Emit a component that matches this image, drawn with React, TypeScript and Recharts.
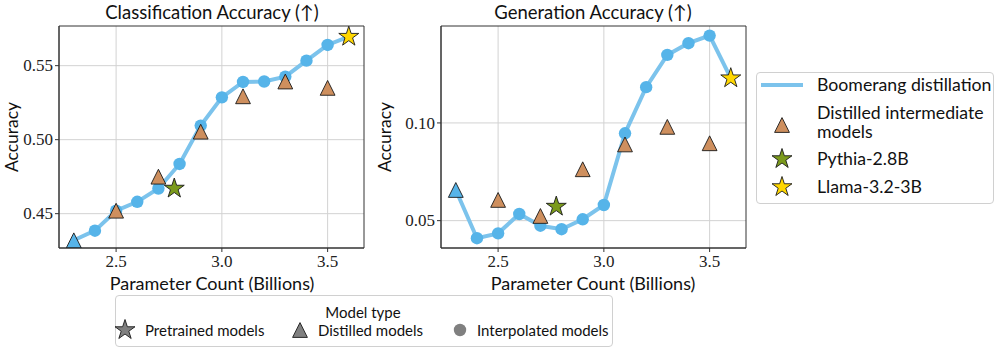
import React from 'react';
import { ComposedChart, Line, Scatter, XAxis, YAxis, CartesianGrid, ReferenceArea } from 'recharts';

// Boomerang distillation line (interpolated models), parameter count in billions
const lineParams = [2.3, 2.4, 2.5, 2.6, 2.7, 2.8, 2.9, 3.0, 3.1, 3.2, 3.3, 3.4, 3.5, 3.6];
const clsLine = [0.432, 0.4385, 0.452, 0.458, 0.467, 0.4836, 0.5095, 0.5286, 0.539, 0.5393, 0.5426, 0.5534, 0.564, 0.5696];
const genLine = [0.0657, 0.041, 0.0435, 0.0534, 0.0474, 0.0456, 0.0507, 0.058, 0.0947, 0.1183, 0.1348, 0.1408, 0.1447, 0.1229];

// Distilled intermediate models
const distilledParams = [2.5, 2.7, 2.9, 3.1, 3.3, 3.5];
const clsDistilled = [0.452, 0.475, 0.5054, 0.5293, 0.5393, 0.535];
const genDistilled = [0.0606, 0.0524, 0.0763, 0.089, 0.098, 0.0896];

// Pretrained models
const pythiaParams = [2.775];
const pythiaCls = [0.467];
const pythiaGen = [0.0572];
const llamaParams = [3.6];
const llamaCls = [0.5696];
const llamaGen = [0.1229];

const xTicks = [2.5, 3.0, 3.5];
const clsTicks = [0.45, 0.5, 0.55];
const genTicks = [0.05, 0.1];

const X_DOMAIN = [2.23, 3.672];
const CLS_DOMAIN = [0.4268, 0.5768];
const GEN_DOMAIN = [0.036, 0.1496];

const BLUE = '#56B4E9';
const LINE_BLUE = '#7CC3EC';
const BROWN = '#CE8F5E';
const OLIVE = '#7B9A1C';
const GOLD = '#FFD700';
const EDGE = '#1a1a1a';
const SANS = 'Lato, "Noto Sans", sans-serif';
const SERIF = '"Liberation Serif", "DejaVu Serif", serif';

const starPath = (cx: number, cy: number, R: number) => {
  const r = R * 0.382;
  const pts: string[] = [];
  for (let i = 0; i < 10; i++) {
    const rad = i % 2 === 0 ? R : r;
    const a = -Math.PI / 2 + (i * Math.PI) / 5;
    pts.push(`${(cx + rad * Math.cos(a)).toFixed(2)},${(cy + rad * Math.sin(a)).toFixed(2)}`);
  }
  return 'M' + pts.join('L') + 'Z';
};

const Star = (fill: string, R = 10.5) => (p: any) =>
  p.cx == null ? <g /> : <path d={starPath(p.cx, p.cy, R)} fill={fill} stroke={EDGE} strokeWidth={0.9} strokeLinejoin="miter" />;

const Tri = (fill: string, s = 7.4) => (p: any) =>
  p.cx == null ? <g /> : (
    <path
      d={`M${p.cx},${p.cy - s}L${p.cx - s},${p.cy + s}L${p.cx + s},${p.cy + s}Z`}
      fill={fill}
      stroke={EDGE}
      strokeWidth={0.9}
    />
  );

const Dot = (fill: string, r = 6.2) => (p: any) =>
  p.cx == null ? <g /> : <circle cx={p.cx} cy={p.cy} r={r} fill={fill} />;

const toPts = (xs: number[], ys: number[]) => xs.map((x, i) => ({ x, y: ys[i] }));

const XTick = (p: any) => (
  <text x={p.x} y={p.y + 1} dy="0.71em" textAnchor="middle" fontFamily={SERIF} fontSize={17} fill="#222">
    {Number(p.payload.value).toFixed(1)}
  </text>
);

const YTick = (p: any) => (
  <text x={p.x} y={p.y} dy="0.34em" textAnchor="end" fontFamily={SERIF} fontSize={17} fill="#222">
    {Number(p.payload.value).toFixed(2)}
  </text>
);

const TextAt = ({ x, y, children, size = 17, anchor = 'center', rotate = false }: any) => (
  <div
    style={{
      position: 'absolute',
      left: x,
      top: y,
      transform: `translate(${anchor === 'left' ? '0' : '-50%'}, -50%)${rotate ? ' rotate(-90deg)' : ''}`,
      fontFamily: SANS,
      fontSize: size,
      color: '#111',
      whiteSpace: 'nowrap',
      lineHeight: 1,
    }}
  >
    {children}
  </div>
);

const Panel = ({ left, lineVals, distVals, pythiaVals, llamaVals, yDomain, yTicks }: any) => {
  const linePts = toPts(lineParams, lineVals);
  const interp = linePts.slice(1, linePts.length - 1);
  const firstTri = [linePts[0]];
  return (
    <div style={{ position: 'absolute', left, top: 0 }}>
      <ComposedChart width={370} height={300} margin={{ top: 26, right: 6, bottom: 0, left: 0 }}>
        <CartesianGrid stroke="#d2d2d2" strokeWidth={1} verticalValues={xTicks} horizontalValues={yTicks} />
        <XAxis
          type="number"
          dataKey="x"
          domain={X_DOMAIN}
          ticks={xTicks}
          height={52}
          allowDataOverflow
          tickSize={4}
          tickMargin={2}
          stroke="#333"
          tick={XTick}
        />
        <YAxis
          type="number"
          dataKey="y"
          domain={yDomain}
          ticks={yTicks}
          width={59}
          allowDataOverflow
          tickSize={4}
          tickMargin={2}
          stroke="#333"
          tick={YTick}
        />
        <ReferenceArea
          x1={X_DOMAIN[0]}
          x2={X_DOMAIN[1]}
          y1={yDomain[0]}
          y2={yDomain[1]}
          fill="none"
          fillOpacity={0}
          stroke="#333"
          strokeWidth={1}
          ifOverflow="visible"
        />
        <Line data={linePts} dataKey="y" stroke={LINE_BLUE} strokeWidth={4} dot={false} isAnimationActive={false} />
        <Scatter data={interp} dataKey="y" shape={Dot(BLUE)} isAnimationActive={false} />
        <Scatter data={firstTri} dataKey="y" shape={Tri(BLUE)} isAnimationActive={false} />
        <Scatter data={toPts(distilledParams, distVals)} dataKey="y" shape={Tri(BROWN)} isAnimationActive={false} />
        <Scatter data={toPts(pythiaParams, pythiaVals)} dataKey="y" shape={Star(OLIVE)} isAnimationActive={false} />
        <Scatter data={toPts(llamaParams, llamaVals)} dataKey="y" shape={Star(GOLD)} isAnimationActive={false} />
      </ComposedChart>
    </div>
  );
};

const LegendIcon = ({ kind, fill, size = 24 }: any) => {
  const c = size / 2;
  let el: any = null;
  if (kind === 'star') el = <path d={starPath(c, c, 10.5)} fill={fill} stroke={EDGE} strokeWidth={0.9} />;
  if (kind === 'tri') el = <path d={`M${c},${c - 7.4}L${c - 7.4},${c + 7.4}L${c + 7.4},${c + 7.4}Z`} fill={fill} stroke={EDGE} strokeWidth={0.9} />;
  if (kind === 'dot') el = <circle cx={c} cy={c} r={6.2} fill={fill} />;
  return (
    <svg width={size} height={size} style={{ position: 'absolute', left: -c, top: -c }}>
      {el}
    </svg>
  );
};

const Icon = ({ x, y, kind, fill }: any) => (
  <div style={{ position: 'absolute', left: x, top: y, width: 0, height: 0 }}>
    <LegendIcon kind={kind} fill={fill} />
  </div>
);

export default function App() {
  return (
    <div style={{ position: 'absolute', left: 0, top: 0, width: 996, height: 359, background: '#fff', overflow: 'hidden' }}>
      <Panel left={0} lineVals={clsLine} distVals={clsDistilled} pythiaVals={pythiaCls} llamaVals={llamaCls} yDomain={CLS_DOMAIN} yTicks={clsTicks} />
      <Panel left={382} lineVals={genLine} distVals={genDistilled} pythiaVals={pythiaGen} llamaVals={llamaGen} yDomain={GEN_DOMAIN} yTicks={genTicks} />

      <TextAt x={212} y={12} size={18.5}>Classification Accuracy (↑)</TextAt>
      <TextAt x={593} y={12} size={18.5}>Generation Accuracy (↑)</TextAt>
      <TextAt x={212} y={283} size={18}>Parameter Count (Billions)</TextAt>
      <TextAt x={593} y={283} size={18}>Parameter Count (Billions)</TextAt>
      <TextAt x={12} y={137} size={17.5} rotate>Accuracy</TextAt>
      <TextAt x={385} y={137} size={17.5} rotate>Accuracy</TextAt>

      {/* right legend */}
      <div style={{ position: 'absolute', left: 756, top: 72, width: 236, height: 130, border: '1px solid #d0d0d0', borderRadius: 4, background: '#fff' }} />
      <div style={{ position: 'absolute', left: 761, top: 83, width: 42, height: 4, background: LINE_BLUE }} />
      <TextAt x={817} y={85} size={17.7} anchor="left">Boomerang distillation</TextAt>
      <Icon x={782} y={125} kind="tri" fill={BROWN} />
      <TextAt x={817} y={113} size={17.7} anchor="left">Distilled intermediate</TextAt>
      <TextAt x={817} y={132} size={17.7} anchor="left">models</TextAt>
      <Icon x={782} y={159} kind="star" fill={OLIVE} />
      <TextAt x={817} y={159} size={17.7} anchor="left">Pythia-2.8B</TextAt>
      <Icon x={782} y={187} kind="star" fill={GOLD} />
      <TextAt x={817} y={187} size={17.7} anchor="left">Llama-3.2-3B</TextAt>

      {/* bottom legend */}
      <div style={{ position: 'absolute', left: 115, top: 295, width: 496, height: 50, border: '1px solid #d0d0d0', borderRadius: 4, background: '#fff' }} />
      <TextAt x={363} y={312} size={15}>Model type</TextAt>
      <Icon x={125} y={330} kind="star" fill="#808080" />
      <TextAt x={145} y={330} size={15} anchor="left">Pretrained models</TextAt>
      <Icon x={300} y={330} kind="tri" fill="#808080" />
      <TextAt x={318} y={330} size={15} anchor="left">Distilled models</TextAt>
      <Icon x={460} y={330} kind="dot" fill="#808080" />
      <TextAt x={477} y={330} size={15} anchor="left">Interpolated models</TextAt>
    </div>
  );
}
